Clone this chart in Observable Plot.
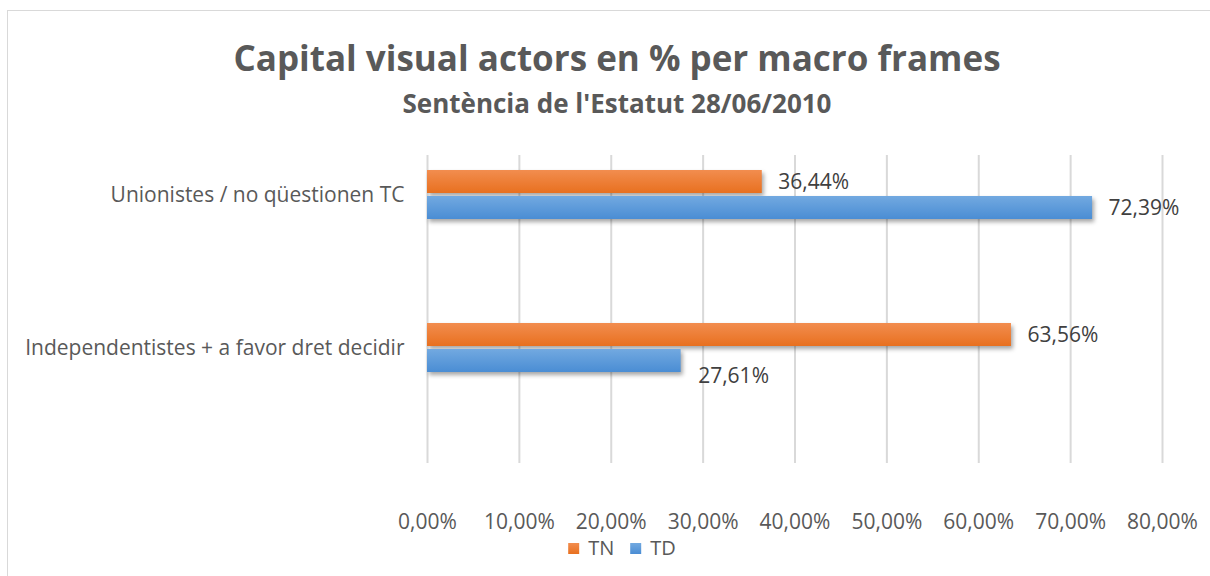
<!DOCTYPE html>
<html>
<head>
<meta charset="utf-8">
<script src="https://cdn.jsdelivr.net/npm/d3@7"></script>
<script src="https://cdn.jsdelivr.net/npm/@observablehq/plot@0.6"></script>
<style>
  html, body { margin: 0; padding: 0; background: #fff; width: 1210px; height: 576px; overflow: hidden; }
  body { position: relative; font-family: "Open Sans", sans-serif; color: #595959; }
  #frame { position: absolute; left: 7px; top: 10px; width: 1230px; height: 600px; border: 1px solid #d9d9d9; box-sizing: border-box; }
  .title { position: absolute; left: 617px; transform: translateX(-50%); white-space: nowrap; font-weight: bold; color: #595959; }
  #t1 { top: 34px; font-size: 35px; line-height: 48px; }
  #t2 { top: 86px; font-size: 26px; line-height: 34px; }
  #chart { position: absolute; left: 0; top: 130px; }
  #legend { position: absolute; left: 630px; transform: translateX(-50%); top: 536px; display: flex; align-items: center; font-size: 20px; line-height: 24px; white-space: nowrap; }
  #legend .sw { display: inline-block; width: 11px; height: 11px; margin-right: 9px; }
  #legend .item { display: flex; align-items: center; margin-right: 16px; }
  g[aria-label="bar"] rect { filter: drop-shadow(2px 3px 2px rgba(0,0,0,0.35)); }
</style>
</head>
<body>
<div id="frame"></div>
<div class="title" id="t1">Capital visual actors en % per macro frames</div>
<div class="title" id="t2">Sentència de l'Estatut 28/06/2010</div>
<div id="chart"></div>
<div id="legend"></div>
<script>
// ---- data ----
const categories = ["Unionistes / no qüestionen TC", "Independentistes + a favor dret decidir"];
const seriesNames = ["TN", "TD"];
const tnValues = [36.44, 63.56];
const tdValues = [72.39, 27.61];
const xTicks = [0, 10, 20, 30, 40, 50, 60, 70, 80];
const xTickLabels = ["0,00%", "10,00%", "20,00%", "30,00%", "40,00%", "50,00%", "60,00%", "70,00%", "80,00%"];
const seriesColors = { TN: ["#F28D4F", "#E8701F"], TD: ["#72A9E0", "#4A8DD4"] };

const rows = [];
categories.forEach((c, i) => {
  rows.push({ category: c, series: "TN", value: tnValues[i] });
  rows.push({ category: c, series: "TD", value: tdValues[i] });
});
const fmt = v => v.toFixed(2).replace(".", ",") + "%";

const tn = rows.filter(d => d.series === "TN");
const td = rows.filter(d => d.series === "TD");
const tdTop = td.filter(d => d.category === categories[0]);
const tdLow = td.filter(d => d.category === categories[1]);

const chart = Plot.plot({
  width: 1210,
  height: 405,
  marginLeft: 427,
  marginRight: 48,
  marginTop: 25,
  marginBottom: 72,
  style: { fontFamily: "'Open Sans', sans-serif", fontSize: "21px", color: "#595959", background: "transparent" },
  x: { domain: [0, 80], ticks: xTicks, label: null },
  y: { domain: categories, range: [-13, 294], padding: 0, label: null },
  marks: [
    Plot.gridX(xTicks, { stroke: "#d9d9d9", strokeOpacity: 1, strokeWidth: 2 }),
    Plot.axisX({ ticks: xTicks, tickSize: 0, tickPadding: 51, tickFormat: d => xTickLabels[xTicks.indexOf(d)], fill: "#595959", fontSize: 21, label: null }),
    Plot.axisY({ tickSize: 0, tickPadding: 23, fill: "#595959", fontSize: 21, label: null }),
    Plot.barX(tn, { x: "value", y: "category", fill: "url(#gradTN)", insetTop: 65, insetBottom: 65, dy: -13 }),
    Plot.barX(td, { x: "value", y: "category", fill: "url(#gradTD)", insetTop: 65, insetBottom: 65, dy: 13 }),
    Plot.text(tn, { x: "value", y: "category", text: d => fmt(d.value), dx: 16, dy: -13, textAnchor: "start", fill: "#404040", fontSize: 21 }),
    Plot.text(tdTop, { x: "value", y: "category", text: d => fmt(d.value), dx: 16, dy: 13, textAnchor: "start", fill: "#404040", fontSize: 21 }),
    Plot.text(tdLow, { x: "value", y: "category", text: d => fmt(d.value), dx: 17, dy: 28, textAnchor: "start", fill: "#404040", fontSize: 21 })
  ]
});

// gradients for bar fills
const svg = d3.select(chart);
const defs = svg.insert("defs", ":first-child");
seriesNames.forEach(s => {
  const g = defs.append("linearGradient").attr("id", "grad" + s).attr("x1", 0).attr("y1", 0).attr("x2", 0).attr("y2", 1);
  g.append("stop").attr("offset", "0%").attr("stop-color", seriesColors[s][0]);
  g.append("stop").attr("offset", "100%").attr("stop-color", seriesColors[s][1]);
});
document.getElementById("chart").appendChild(chart);

// legend
const legend = d3.select("#legend");
seriesNames.forEach(s => {
  const it = legend.append("div").attr("class", "item");
  it.append("span").attr("class", "sw").style("background", `linear-gradient(${seriesColors[s][0]}, ${seriesColors[s][1]})`);
  it.append("span").text(s);
});
</script>
</body>
</html>
